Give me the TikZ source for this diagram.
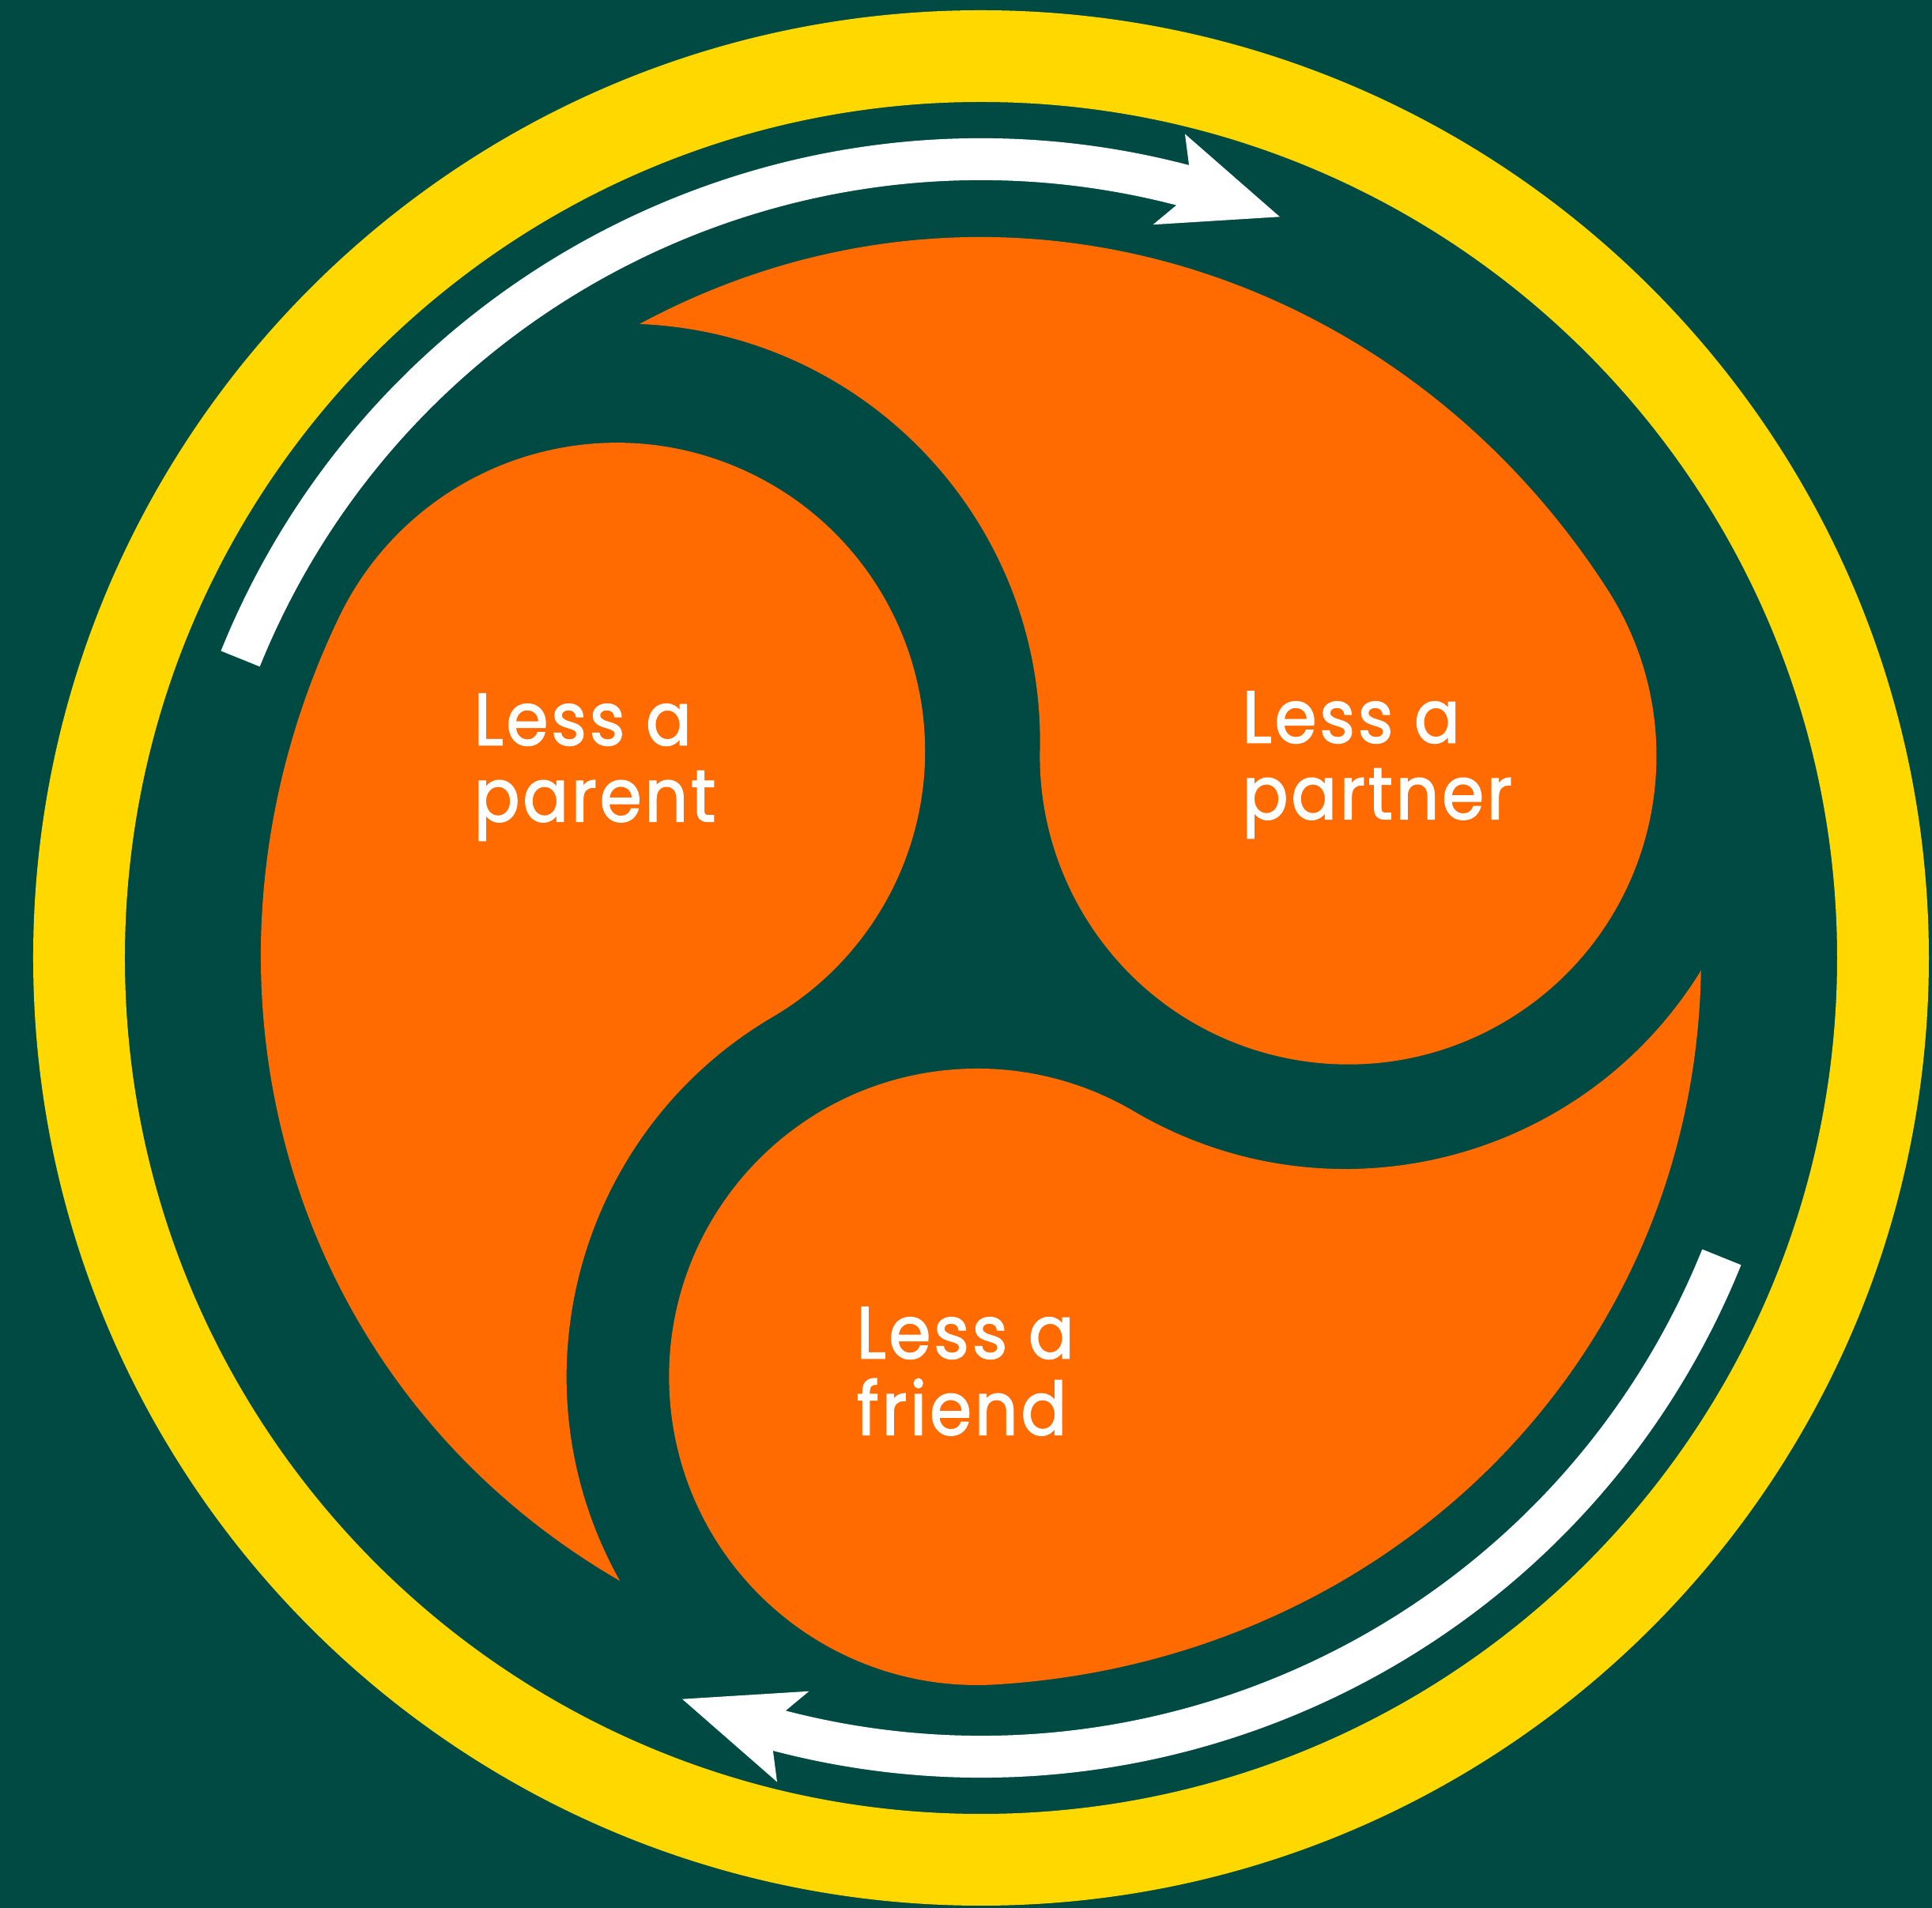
\documentclass[tikz,border=0pt]{standalone}
\usepackage{fontspec}
\setmainfont{Poppins}
\newfontfamily\lblfont{Poppins}[FakeBold=1.8, FakeStretch=0.92, LetterSpace=4]
\definecolor{bgteal}{RGB}{0,74,68}
\definecolor{ringyellow}{RGB}{255,216,0}
\definecolor{bloborange}{RGB}{255,107,0}
\tikzset{
  blobfill/.style={fill=bloborange},
  arrowfill/.style={fill=white},
  ringfill/.style={fill=ringyellow, even odd rule},
  lbl/.style={text=white, align=left, inner sep=0pt, anchor=north west,
              font=\lblfont\fontsize{26.5}{27.5}\selectfont}
}
\begin{document}
\begin{tikzpicture}
\useasboundingbox (-12.41,-12.02) rectangle (12.03,12.12);
\fill[bgteal] (-12.41,-12.02) rectangle (12.03,12.12);
% yellow ring
\fill[ringfill] (0,0) circle[radius=11.99] (0,0) circle[radius=10.83];
% circular arrows
\foreach \r in {0,180}{
  \begin{scope}[rotate=\r]
    \fill[arrowfill] (158:10.37) arc[start angle=158, end angle=75.3, radius=10.37]
      -- (76.1:10.74) -- (68.05:10.11) -- (76.8:9.53) -- (75.45:9.84)
      arc[start angle=75.45, end angle=158, radius=9.84] -- cycle;
  \end{scope}
}
% three tomoe shapes
\foreach \a in {28.8,150.4,269.5}{
  \begin{scope}[rotate=\a]
    \fill[blobfill] (89.5:9.11)
      .. controls (5.029,9.067) and (8.845,5.210) .. (9.1905,0.272)
      arc[start angle=4, end angle=-210, radius=3.90]
      arc[start angle=-30, end angle=58.93, radius=5.28] -- cycle;
  \end{scope}
}
% labels
\node[lbl] (parent) at (-6.42,3.35) {Less a\\parent};
\node[lbl] (partner) at (3.30,3.38) {Less a\\partner};
\node[lbl] (friend) at (-1.58,-4.41) {Less a\\friend};
\end{tikzpicture}
\end{document}
